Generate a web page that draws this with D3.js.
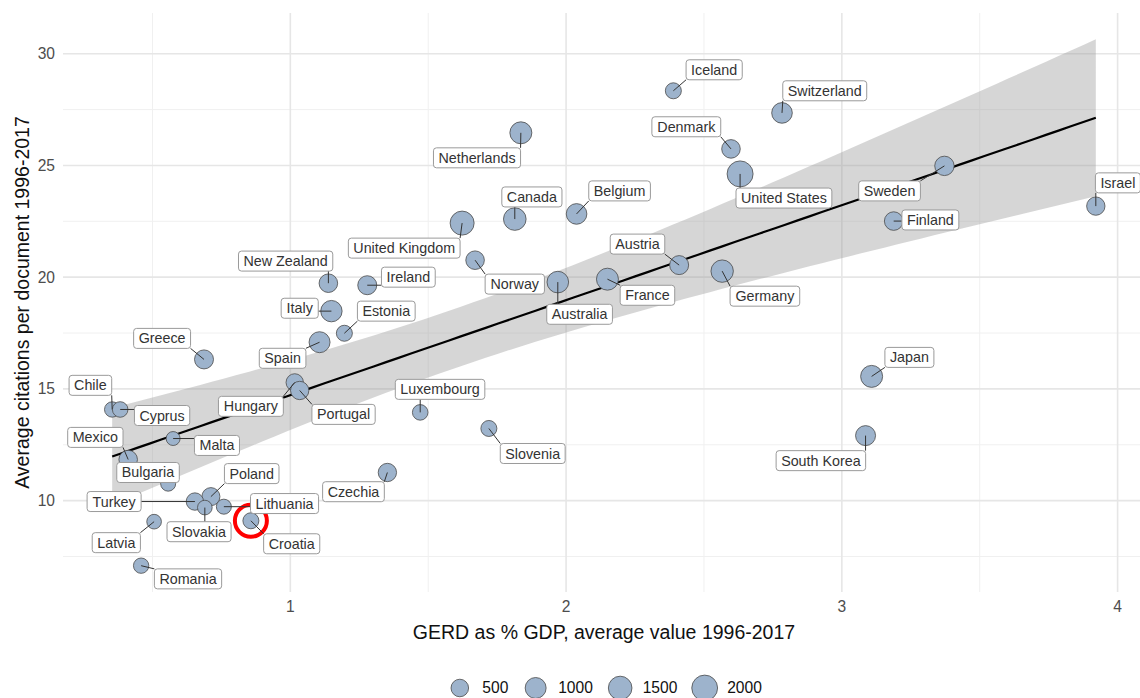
<!DOCTYPE html>
<html>
<head>
<meta charset="utf-8">
<script src="https://cdn.jsdelivr.net/npm/d3@7"></script>
<style>
  body { margin: 0; background: #fff; }
  text { font-family: Arial, "Liberation Sans", sans-serif; }
</style>
</head>
<body>
<svg id="chart" width="1140" height="698"></svg>
<script>
// countries, R&D spend (GERD % GDP), citations per doc, bubble size
const countries = ['Iceland','Switzerland','Netherlands','Denmark','United States','Sweden','Israel','Finland',
  'Canada','Belgium','United Kingdom','Norway','Australia','France','Austria','Germany','New Zealand','Ireland',
  'Italy','Estonia','Spain','Greece','Hungary','Portugal','Luxembourg','Slovenia','Japan','South Korea','Chile',
  'Cyprus','Mexico','Malta','Bulgaria','Poland','Czechia','Turkey','Lithuania','Latvia','Slovakia','Croatia','Romania']
const gerd = [2.389,2.783,1.836,2.598,2.631,3.372,3.921,3.188,
  1.814,2.038,1.623,1.670,1.970,2.150,2.410,2.566,1.138,1.279,
  1.149,1.196,1.106,0.687,1.016,1.034,1.471,1.720,3.108,3.086,0.354,
  0.383,0.412,0.575,0.557,0.712,1.352,0.654,0.759,0.506,0.690,0.857,0.459]
const citations = [28.34,27.35,26.46,25.74,24.62,24.98,23.18,22.51,
  22.60,22.83,22.42,20.76,19.78,19.91,20.54,20.27,19.73,19.64,
  18.48,17.49,17.09,16.32,15.29,14.93,13.95,13.23,15.56,12.91,14.08,
  14.08,11.84,12.78,10.76,10.18,11.26,9.96,9.73,9.06,9.69,9.10,7.09]
const docs = [330,940,1180,630,2050,750,600,630,
  1300,940,1590,630,1110,1180,690,1260,630,690,
  1070,330,1000,690,480,600,290,330,1180,840,270,
  290,630,160,240,560,600,480,240,210,210,330,270]
// where the repelled labels ended up (data units)
const labelGerd = [2.537,2.938,1.677,2.436,2.790,3.173,4.001,3.321,
  1.876,2.194,1.413,1.814,2.049,2.295,2.259,2.721,0.983,1.428,
  1.034,1.348,0.972,0.535,0.857,1.193,1.543,1.879,3.245,2.924,0.275,
  0.535,0.293,0.734,0.484,0.860,1.229,0.361,0.979,0.369,0.669,1.005,0.629]
const labelCites = [29.28,28.34,25.34,26.73,23.54,23.86,24.22,22.56,
  23.59,23.86,21.30,19.69,18.34,19.19,21.48,19.15,20.72,20.00,
  18.61,18.48,16.37,17.26,14.22,13.86,14.98,12.11,16.41,11.79,15.16,
  13.81,12.83,12.47,11.26,11.21,10.40,9.96,9.87,8.12,8.61,8.07,6.50]
const xTicks = [1, 2, 3, 4]
const yTicks = [10, 15, 20, 25, 30]
const legendSizes = [500, 1000, 1500, 2000]
const highlight = 'Croatia'

const svg = d3.select('#chart')
const panel = { left: 63, right: 1145, top: 13, bottom: 592 }
const pointFill = '#9db3cc'

// linear fit + 95% band (like geom_smooth(method = 'lm'))
const n = gerd.length
const xbar = d3.mean(gerd), ybar = d3.mean(citations)
const sxx = d3.sum(gerd, v => (v - xbar) ** 2)
const sxy = d3.sum(gerd, (v, i) => (v - xbar) * (citations[i] - ybar))
const slope = sxy / sxx
const icpt = ybar - slope * xbar
const s2 = d3.sum(gerd, (v, i) => (citations[i] - icpt - slope * v) ** 2) / (n - 2)
const tq = 2.0227
const [xmin, xmax] = d3.extent(gerd)
const band = d3.range(80).map(k => {
  const xv = xmin + (xmax - xmin) * k / 79
  const fit = icpt + slope * xv
  const se = Math.sqrt(s2 * (1 / n + (xv - xbar) ** 2 / sxx))
  return { x: xv, y: fit, lo: fit - tq * se, hi: fit + tq * se }
})

const yLo = Math.min(d3.min(citations), d3.min(band, d => d.lo))
const yHi = Math.max(d3.max(citations), d3.max(band, d => d.hi))
const xPad = (xmax - xmin) * 0.05, yPad = (yHi - yLo) * 0.05

const x = d3.scaleLinear().domain([xmin - xPad, xmax + xPad]).range([panel.left, panel.right])
const y = d3.scaleLinear().domain([yLo - yPad, yHi + yPad]).range([panel.bottom, panel.top])
const r = d3.scaleSqrt().domain([100, 2300]).range([6.5, 13.5])

// grid
const grid = svg.append('g')
const minorX = d3.range(0.5, 4.5, 1).filter(v => v > x.domain()[0] && v < x.domain()[1])
const minorY = d3.range(7.5, 35, 5).filter(v => v > y.domain()[0] && v < y.domain()[1])
grid.selectAll('.mx').data(minorX).join('line')
  .attr('x1', d => x(d)).attr('x2', d => x(d)).attr('y1', panel.top).attr('y2', panel.bottom)
  .attr('stroke', '#f0f0f0').attr('stroke-width', 1)
grid.selectAll('.my').data(minorY).join('line')
  .attr('y1', d => y(d)).attr('y2', d => y(d)).attr('x1', panel.left).attr('x2', panel.right)
  .attr('stroke', '#f0f0f0').attr('stroke-width', 1)
grid.selectAll('.gx').data(xTicks).join('line')
  .attr('x1', d => x(d)).attr('x2', d => x(d)).attr('y1', panel.top).attr('y2', panel.bottom)
  .attr('stroke', '#e6e6e6').attr('stroke-width', 1.6)
grid.selectAll('.gy').data(yTicks).join('line')
  .attr('y1', d => y(d)).attr('y2', d => y(d)).attr('x1', panel.left).attr('x2', panel.right)
  .attr('stroke', '#e6e6e6').attr('stroke-width', 1.6)

// axes text
svg.append('g').selectAll('text').data(xTicks).join('text')
  .attr('x', d => x(d)).attr('y', 612).attr('text-anchor', 'middle')
  .attr('font-size', 15.6).attr('fill', '#4d4d4d').text(d => d)
svg.append('g').selectAll('text').data(yTicks).join('text')
  .attr('x', 55).attr('y', d => y(d)).attr('dy', '0.35em').attr('text-anchor', 'end')
  .attr('font-size', 15.6).attr('fill', '#4d4d4d').text(d => d)
svg.append('text').attr('x', (panel.left + panel.right) / 2).attr('y', 639)
  .attr('text-anchor', 'middle').attr('font-size', 19.5).attr('fill', '#111')
  .text('GERD as % GDP, average value 1996-2017')
svg.append('text').attr('transform', `translate(29,${(panel.top + panel.bottom) / 2}) rotate(-90)`)
  .attr('text-anchor', 'middle').attr('font-size', 19.5).attr('fill', '#111')
  .text('Average citations per document 1996-2017')

// smooth
svg.append('path').datum(band)
  .attr('d', d3.area().x(d => x(d.x)).y0(d => y(d.lo)).y1(d => y(d.hi)))
  .attr('fill', '#999').attr('fill-opacity', 0.4)
svg.append('path').datum(band)
  .attr('d', d3.line().x(d => x(d.x)).y(d => y(d.y)))
  .attr('fill', 'none').attr('stroke', '#000').attr('stroke-width', 2.2)

const idx = d3.range(n)

// points
svg.append('g').selectAll('circle').data(idx).join('circle')
  .attr('cx', i => x(gerd[i])).attr('cy', i => y(citations[i])).attr('r', i => r(docs[i]))
  .attr('fill', pointFill).attr('stroke', '#4a4a4a').attr('stroke-width', 0.8)

// highlight ring
const hi = countries.indexOf(highlight)
svg.append('circle').attr('cx', x(gerd[hi])).attr('cy', y(citations[hi])).attr('r', 16)
  .attr('fill', 'none').attr('stroke', '#ff0000').attr('stroke-width', 4)

// labels
const segG = svg.append('g')
const labG = svg.append('g')
idx.forEach(i => {
  const cx = x(labelGerd[i]), cy = y(labelCites[i])
  const g = labG.append('g')
  const t = g.append('text').attr('x', cx).attr('y', cy).attr('dy', '0.35em')
    .attr('text-anchor', 'middle').attr('font-size', 14.3).attr('fill', '#333').text(countries[i])
  const bb = t.node().getBBox()
  const bw = bb.width + 10, bh = 20
  const bx = cx - bw / 2, by = cy - bh / 2
  g.insert('rect', 'text').attr('x', bx).attr('y', by).attr('width', bw).attr('height', bh)
    .attr('rx', 3).attr('fill', '#fff').attr('stroke', '#9a9a9a').attr('stroke-width', 1)
  const px = x(gerd[i]), py = y(citations[i])
  const ex = Math.max(bx, Math.min(px, bx + bw)), ey = Math.max(by, Math.min(py, by + bh))
  if (Math.hypot(ex - px, ey - py) > r(docs[i]) * 0.6) {
    segG.append('line').attr('x1', px).attr('y1', py).attr('x2', ex).attr('y2', ey)
      .attr('stroke', '#333').attr('stroke-width', 1)
  }
})

// size legend
const leg = svg.append('g')
const keyW = 28, gap = 8.5, spacing = 13
let lx = 0
legendSizes.forEach(v => {
  const it = leg.append('g').attr('transform', `translate(${lx},0)`)
  it.append('circle').attr('cx', keyW / 2).attr('cy', 0).attr('r', r(v))
    .attr('fill', pointFill).attr('stroke', '#4a4a4a').attr('stroke-width', 0.8)
  const t = it.append('text').attr('x', keyW + gap).attr('y', 0).attr('dy', '0.35em')
    .attr('font-size', 15.6).attr('fill', '#111').text(v)
  lx += keyW + gap + t.node().getBBox().width + spacing
})
lx -= spacing
leg.attr('transform', `translate(${(panel.left + panel.right) / 2 - lx / 2},688)`)
</script>
</body>
</html>
